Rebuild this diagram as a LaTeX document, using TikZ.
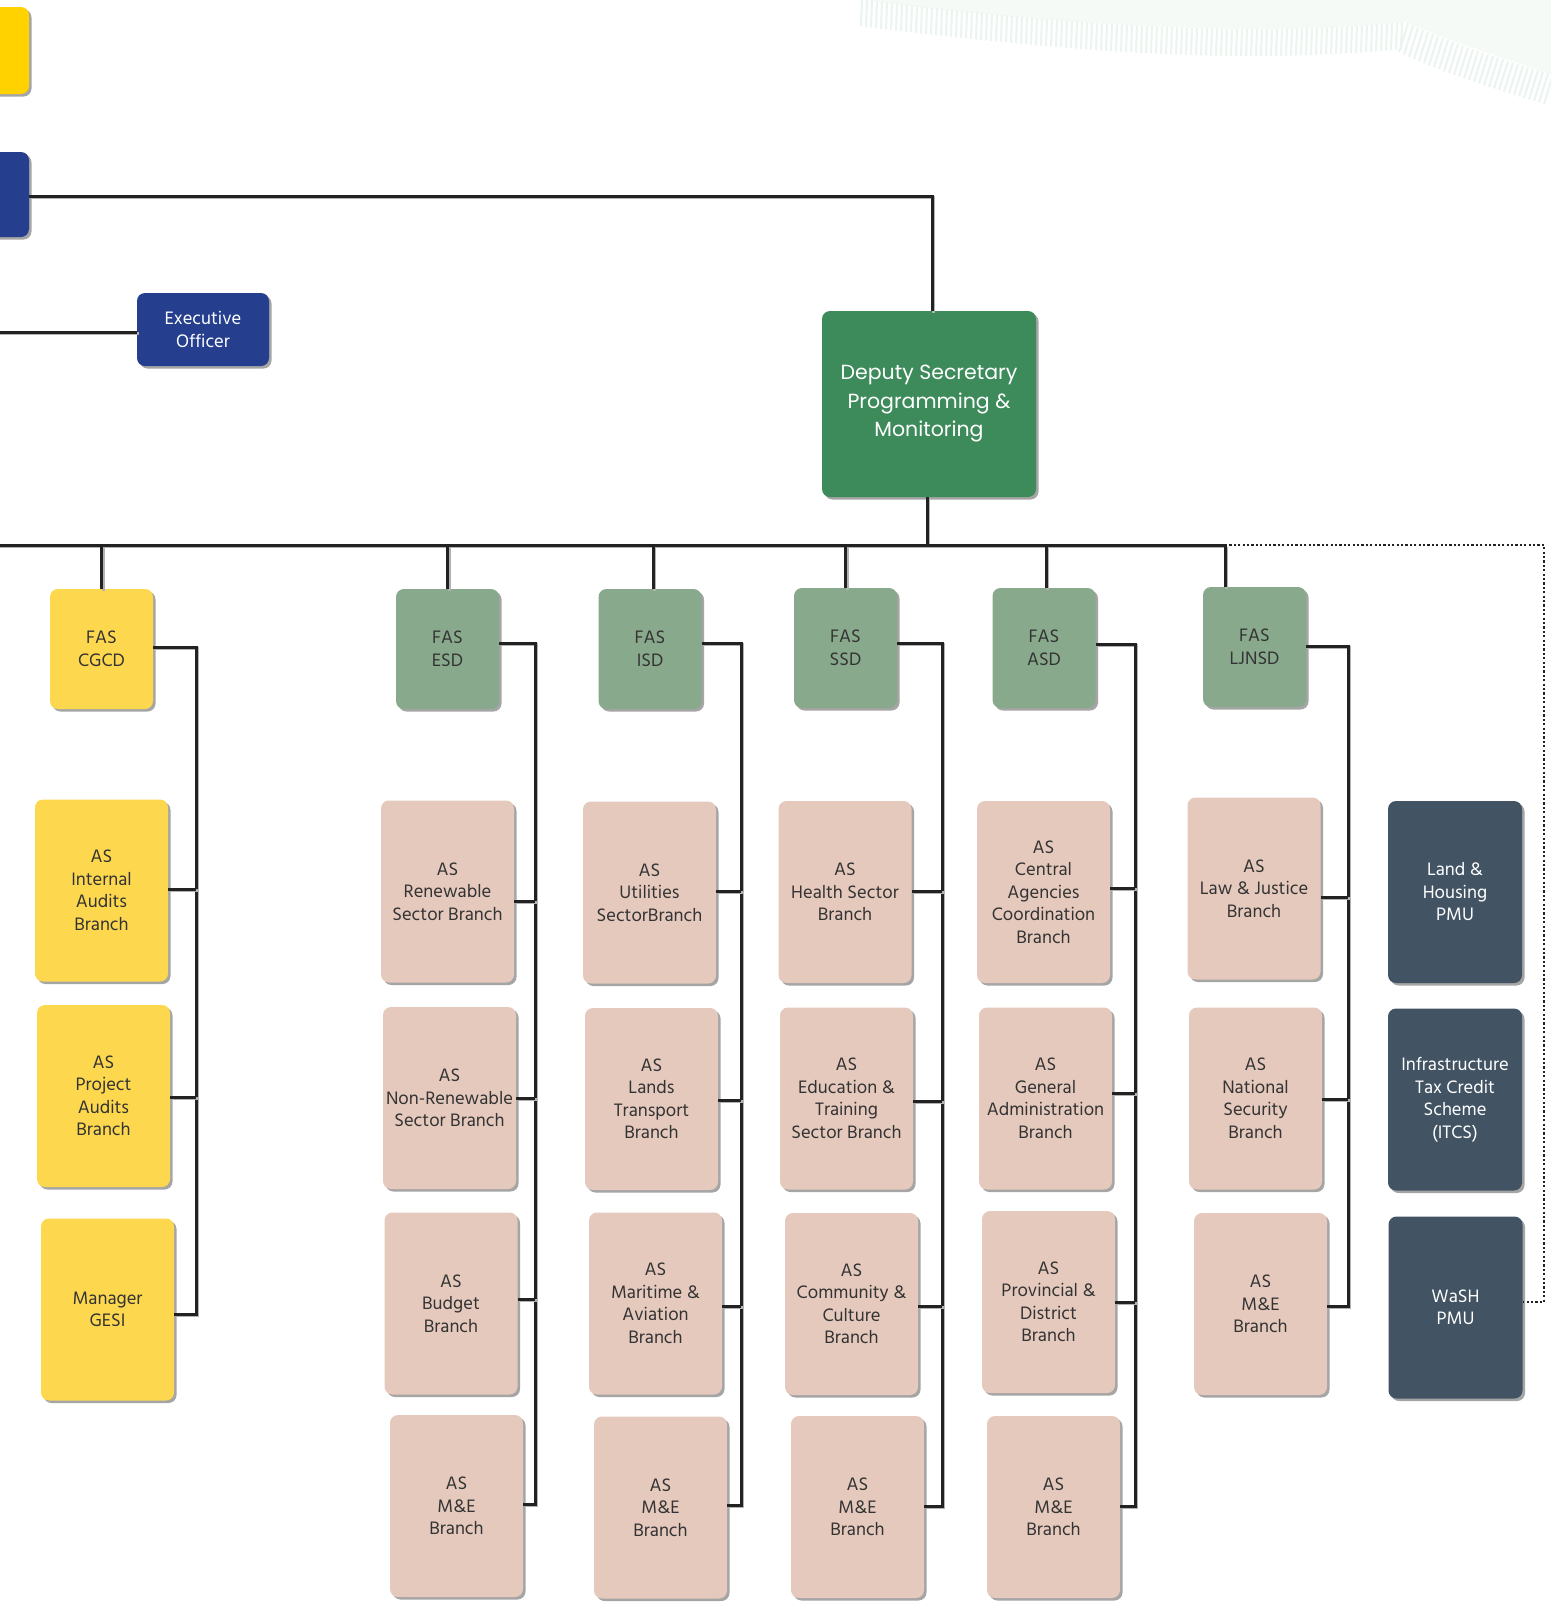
\documentclass[tikz,border=0pt]{standalone}
\usepackage{fontspec}
\setmainfont{Hind Madurai}
\newfontfamily\dsfont{Poppins}
\usetikzlibrary{shadows,calc}
\definecolor{ytop}{HTML}{FFD200}
\definecolor{btop}{HTML}{253F8E}
\definecolor{dsgreen}{HTML}{3D8A5B}
\definecolor{sage}{HTML}{88A98C}
\definecolor{aspink}{HTML}{E5C9BD}
\definecolor{slate}{HTML}{425363}
\definecolor{ybox}{HTML}{FDD84F}
\definecolor{txtdark}{HTML}{333333}
\definecolor{linec}{HTML}{222222}
\definecolor{decofill}{HTML}{F5FAF7}
\definecolor{decostripe}{HTML}{EBF4EE}
\newcommand\bodyfont{\fontsize{18.5pt}{22.5pt}\selectfont}
\tikzset{
  box/.style={rounded corners=8pt, inner sep=0pt, outer sep=0pt, align=center,
    text=txtdark, font=\bodyfont,
    drop shadow={shadow xshift=2.5pt, shadow yshift=-2.5pt, opacity=0.5, fill=black!70}},
  asbox/.style={box, fill=aspink, minimum width=133pt, minimum height=182pt},
  ylwbox/.style={box, fill=ybox, minimum width=133pt, minimum height=182pt},
  pmubox/.style={box, fill=slate, text=white, minimum width=134pt, minimum height=182pt},
  fasbox/.style={box, fill=sage, minimum width=103pt, minimum height=120pt},
  fasy/.style={box, fill=ybox, minimum width=103pt, minimum height=120pt},
  bluebox/.style={box, fill=btop, text=white},
  dsbox/.style={box, fill=dsgreen, text=white, minimum width=214pt, minimum height=186pt,
    font=\dsfont\fontsize{20.5pt}{28.5pt}\selectfont},
  conn/.style={draw=linec, line width=3pt,
    preaction={draw=black!30, line width=3pt, transform canvas={xshift=1.5pt, yshift=-1.5pt}}},
  dotline/.style={draw=linec, line width=2.2pt, dash pattern=on 2.2pt off 2.2pt},
  stripe/.style={draw=decostripe, line width=2pt}
}
\begin{document}
\begin{tikzpicture}[x=1pt, y=-1pt]
\useasboundingbox (0,0) rectangle (1551,1604);
\clip (0,0) rectangle (1551,1604);
\fill[white] (0,0) rectangle (1551,1604);

% faint decoration, top right
\fill[decofill] (850,-2) .. controls (1000,20) and (1250,40) .. (1405,22)
  .. controls (1460,45) and (1510,60) .. (1553,75) -- (1553,-2) -- cycle;
\foreach \x in {862,867,...,1402} {
  \pgfmathsetmacro\t{(\x-850)/555}
  \pgfmathsetmacro\yt{-2*(1-\t)^3+60*(1-\t)^2*\t+120*(1-\t)*\t^2+22*\t^3}
  \draw[stripe] (\x,\yt) -- (\x-1,\yt+27);
}
\foreach \x in {1408,1413,...,1553} {
  \pgfmathsetmacro\t{(\x-1405)/148}
  \pgfmathsetmacro\yt{22*(1-\t)^3+135*(1-\t)^2*\t+180*(1-\t)*\t^2+75*\t^3}
  \draw[stripe] (\x,\yt) -- (\x-9,\yt+29);
}

% top level
\node[box, fill=ytop, minimum width=69pt, minimum height=87pt] (topy) at (-5.5,50.5) {};
\node[bluebox, minimum width=69pt, minimum height=85pt] (topb) at (-5.5,194.5) {};
\node[bluebox, minimum width=132pt, minimum height=73pt] (exec) at (203,329.5) {Executive\\Officer};
\node[dsbox] (ds) at (929,404) {Deputy Secretary\\Programming \&\\Monitoring};

% FAS level
\node[fasy]   (cgcd)  at (101.5,649) {FAS\\CGCD};
\node[fasbox] (esd)   at (447.5,649) {FAS\\ESD};
\node[fasbox] (isd)   at (650,649)   {FAS\\ISD};
\node[fasbox] (ssd)   at (845.5,648) {FAS\\SSD};
\node[fasbox] (asd)   at (1044,648)  {FAS\\ASD};
\node[fasbox] (ljnsd) at (1254.5,647){FAS\\LJNSD};

% CGCD column
\node[ylwbox] (intaud)  at (101.5,890.5) {AS\\Internal\\Audits\\Branch};
\node[ylwbox] (projaud) at (103.5,1096)  {AS\\Project\\Audits\\Branch};
\node[ylwbox] (gesi)    at (107.5,1309.5){Manager\\GESI};

% ESD column
\node[asbox] (ren)    at (447.5,891.5) {AS\\Renewable\\Sector Branch};
\node[asbox] (nonren) at (449.5,1098)  {AS\\Non-Renewable\\Sector Branch};
\node[asbox] (budget) at (451,1303.5)  {AS\\Budget\\Branch};
\node[asbox] (esdme)  at (456.5,1506)  {AS\\M\&E\\Branch};

% ISD column
\node[asbox] (util)  at (649.5,892.5) {AS\\Utilities\\SectorBranch};
\node[asbox] (lands) at (651.5,1099)  {AS\\Lands\\Transport\\Branch};
\node[asbox] (mari)  at (655.5,1303.5){AS\\Maritime \&\\Aviation\\Branch};
\node[asbox] (isdme) at (660.5,1507.5){AS\\M\&E\\Branch};

% SSD column
\node[asbox] (health) at (845,892)    {AS\\Health Sector\\Branch};
\node[asbox] (edu)    at (846.5,1098.5){AS\\Education \&\\Training\\Sector Branch};
\node[asbox] (comm)   at (851.5,1304) {AS\\Community \&\\Culture\\Branch};
\node[asbox] (ssdme)  at (857.5,1507) {AS\\M\&E\\Branch};

% ASD column
\node[asbox] (central) at (1043.5,892)  {AS\\Central\\Agencies\\Coordination\\Branch};
\node[asbox] (general) at (1045.5,1098.5){AS\\General\\Administration\\Branch};
\node[asbox] (prov)    at (1048.5,1302) {AS\\Provincial \&\\District\\Branch};
\node[asbox] (asdme)   at (1053.5,1507) {AS\\M\&E\\Branch};

% LJNSD column
\node[asbox] (law)    at (1254,888.5)  {AS\\Law \& Justice\\Branch};
\node[asbox] (natsec) at (1255.5,1098.5){AS\\National\\Security\\Branch};
\node[asbox] (ljme)   at (1260.5,1304) {AS\\M\&E\\Branch};

% PMU column
\node[pmubox] (landh) at (1455,892)    {Land \&\\Housing\\PMU};
\node[pmubox] (itcs)  at (1455,1099.5) {Infrastructure\\Tax Credit\\Scheme\\(ITCS)};
\node[pmubox] (wash)  at (1455.5,1307.5){WaSH\\PMU};

% helper coordinates
\coordinate (busL) at (-5,545);
\coordinate (execsrc) at (-5,332);
\coordinate (ljtop) at ([xshift=-29.5pt]ljnsd.north);
\coordinate (vcg) at (196,0);
\coordinate (vesd) at (535,0);
\coordinate (visd) at (741,0);
\coordinate (vssd) at (942,0);
\coordinate (vasd) at (1135,0);
\coordinate (vlj) at (1348,0);
\coordinate (dotc) at (1544,545);

% top connectors
\draw[conn] (execsrc) -- (exec.west |- execsrc);
\draw[conn] (topb.east |- 0,196) -| ([xshift=3pt]ds.north);
\draw[conn] ([xshift=-2pt]ds.south) -- ([xshift=-2pt]ds.south |- busL);
\draw[conn] (busL) -- (ljtop |- busL);
\draw[conn] (cgcd.north) -- (cgcd.north |- busL);
\draw[conn] (esd.north) -- (esd.north |- busL);
\draw[conn] ([xshift=3pt]isd.north) -- ([xshift=3pt]isd.north |- busL);
\draw[conn] (ssd.north) -- (ssd.north |- busL);
\draw[conn] ([xshift=2pt]asd.north) -- ([xshift=2pt]asd.north |- busL);
\draw[conn] (ljtop) -- (ljtop |- busL);
\draw[dotline] (ljtop |- busL) -- (dotc) -- (dotc |- 0,1302) -- (wash.east |- 0,1302);

% CGCD column
\draw[conn] (cgcd.east |- 0,647) -| (vcg |- 0,1314) -- (gesi.east |- 0,1314);
\draw[conn] (intaud.east |- 0,889) -- (vcg |- 0,889);
\draw[conn] (projaud.east |- 0,1097) -- (vcg |- 0,1097);

% ESD column
\draw[conn] (esd.east |- 0,643) -| (vesd |- 0,1504) -- (esdme.east |- 0,1504);
\draw[conn] (ren.east |- 0,901) -- (vesd |- 0,901);
\draw[conn] (nonren.east |- 0,1098) -- (vesd |- 0,1098);
\draw[conn] (budget.east |- 0,1299) -- (vesd |- 0,1299);

% ISD column
\draw[conn] (isd.east |- 0,643) -| (visd |- 0,1505) -- (isdme.east |- 0,1505);
\draw[conn] (util.east |- 0,891) -- (visd |- 0,891);
\draw[conn] (lands.east |- 0,1100) -- (visd |- 0,1100);
\draw[conn] (mari.east |- 0,1306) -- (visd |- 0,1306);

% SSD column
\draw[conn] (ssd.east |- 0,643) -| (vssd |- 0,1506) -- (ssdme.east |- 0,1506);
\draw[conn] (health.east |- 0,891) -- (vssd |- 0,891);
\draw[conn] (edu.east |- 0,1101) -- (vssd |- 0,1101);
\draw[conn] (comm.east |- 0,1306) -- (vssd |- 0,1306);

% ASD column
\draw[conn] (asd.east |- 0,644) -| (vasd |- 0,1506) -- (asdme.east |- 0,1506);
\draw[conn] (central.east |- 0,888) -- (vasd |- 0,888);
\draw[conn] (general.east |- 0,1093) -- (vasd |- 0,1093);
\draw[conn] (prov.east |- 0,1302) -- (vasd |- 0,1302);

% LJNSD column
\draw[conn] (ljnsd.east |- 0,646) -| (vlj |- 0,1306) -- (ljme.east |- 0,1306);
\draw[conn] (law.east |- 0,897) -- (vlj |- 0,897);
\draw[conn] (natsec.east |- 0,1099) -- (vlj |- 0,1099);
\end{tikzpicture}
\end{document}
